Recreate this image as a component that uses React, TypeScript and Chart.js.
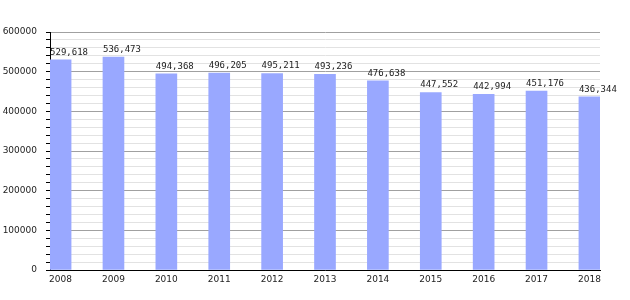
import React, { useEffect, useRef } from "react";
import { Chart, registerables } from "chart.js";

Chart.register(...registerables);

const years: number[] = [2008, 2009, 2010, 2011, 2012, 2013, 2014, 2015, 2016, 2017, 2018];
const values: number[] = [529618, 536473, 494368, 496205, 495211, 493236, 476638, 447552, 442994, 451176, 436344];
const yMax = 600000;
const yStep = 20000;
const yLabelStep = 100000;

const barColor = "#99a8ff";

const valueLabelPlugin = {
  id: "valueLabels",
  afterDatasetsDraw(chart: any) {
    const ctx = chart.ctx;
    const meta = chart.getDatasetMeta(0);
    ctx.save();
    ctx.font = "9px 'DejaVu Sans Mono'";
    ctx.fillStyle = "#222";
    ctx.textAlign = "left";
    ctx.textBaseline = "bottom";
    meta.data.forEach((bar: any, i: number) => {
      const txt = values[i].toLocaleString("en-US");
      ctx.fillText(txt, bar.x - bar.width / 2, bar.y - 3);
    });
    ctx.restore();
  },
};

export default function App() {
  const ref = useRef<HTMLCanvasElement>(null);
  useEffect(() => {
    if (!ref.current) return;
    const chart = new Chart(ref.current, {
      type: "bar",
      data: {
        datasets: [
          {
            data: years.map((y, i) => ({ x: y, y: values[i] })) as any,
            backgroundColor: barColor,
            borderWidth: 0,
            barThickness: 21,
          },
        ],
      },
      options: {
        animation: false,
        responsive: false,
        layout: { padding: { top: 32, right: 30, left: 0, bottom: 0 } },
        plugins: { legend: { display: false }, tooltip: { enabled: false } },
        scales: {
          x: {
            type: "linear",
            min: 2007.8,
            max: 2018.2,
            offset: false,
            afterBuildTicks: (scale: any) => {
              scale.ticks = years.map((v) => ({ value: v }));
            },
            afterFit: (scale: any) => {
              scale.height = 30;
            },
            ticks: {
              callback: (v: any) => String(v),
              font: { family: "'DejaVu Sans'", size: 9 },
              color: "#222",
              padding: 4,
              autoSkip: false,
              maxRotation: 0,
            },
            grid: { display: false, drawTicks: false },
            border: { display: true, color: "#000", width: 1 },
          },
          y: {
            min: 0,
            max: yMax,
            afterFit: (scale: any) => {
              scale.width = 50;
            },
            ticks: {
              stepSize: yStep,
              autoSkip: false,
              callback: (v: any) => (Number(v) % yLabelStep === 0 ? String(v) : ""),
              font: { family: "'DejaVu Sans'", size: 9 },
              color: "#222",
              padding: 9,
            },
            grid: {
              color: (c: any) =>
                c.tick && c.tick.value % yLabelStep === 0 ? "#a0a0a0" : "#e2e2e2",
              tickColor: "#000",
              tickLength: 4,
              lineWidth: 1,
            },
            border: { display: true, color: "#000", width: 1 },
          },
        },
      },
      plugins: [valueLabelPlugin],
    });
    return () => chart.destroy();
  }, []);
  return (
    <div style={{ position: "absolute", left: 0, top: 0, width: 630, height: 300, background: "#fff" }}>
      <canvas ref={ref} width={630} height={300} />
    </div>
  );
}
